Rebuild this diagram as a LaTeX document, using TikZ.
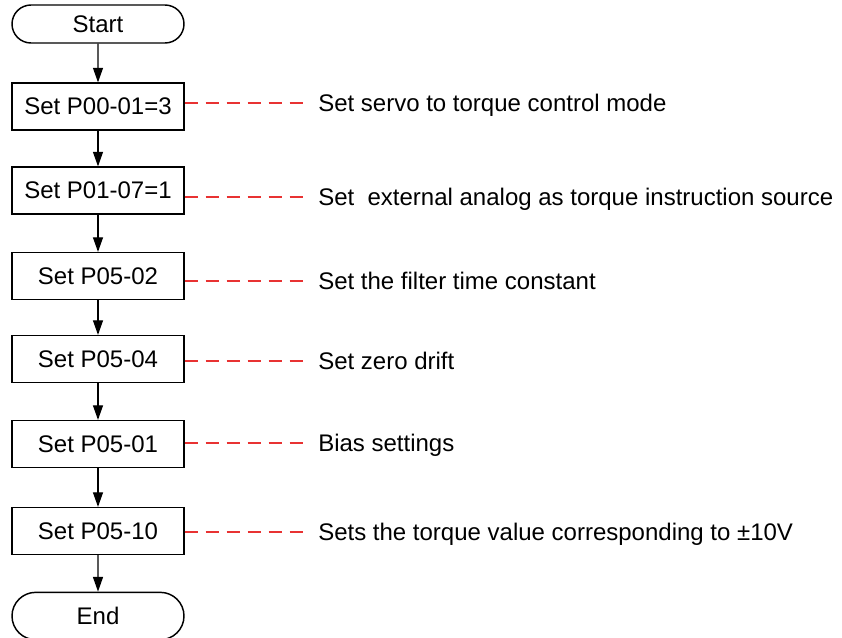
\documentclass[tikz,border=0pt]{standalone}
\usepackage{fontspec}
\setmainfont{Liberation Sans}
\usetikzlibrary{shapes.misc,arrows.meta}
\definecolor{leadred}{RGB}{232,50,50}

\begin{document}
\begin{tikzpicture}[x=0.75pt,y=-0.75pt,>={Triangle[length=11pt,width=7.5pt]},
    box/.style={draw, line width=1.1pt, minimum width=129pt, minimum height=35pt,
        inner sep=0pt, font=\fontsize{18}{21}\selectfont},
    term/.style={box, rounded rectangle, minimum height=28.5pt},
    note/.style={anchor=west, inner xsep=9.75pt, inner ysep=0pt, text height=12.9pt,
        text depth=0pt, font=\fontsize{18}{21}\selectfont},
    lead/.style={leadred, line width=0.9pt, dash pattern=on 9.75pt off 6pt},
    flow/.style={->, line width=1pt}]
    % --- 画布范围 ---
    \useasboundingbox (0,0) rectangle (842,637);

    % --- 1. 流程框 ---
    \node[term] (start) at (98,24) {Start};
    \node[box] (p0001) at (98,106.5) {Set P00-01=3};
    \node[box] (p0107) at (98,190.5) {Set P01-07=1};
    \node[box] (p0502) at (98,276) {Set P05-02};
    \node[box] (p0504) at (98,359) {Set P05-04};
    \node[box] (p0501) at (98,444) {Set P05-01};
    \node[box] (p0510) at (98,531) {Set P05-10};
    \node[term, minimum height=35.5pt] (end) at (98,616) {End};

    % --- 2. 流程箭头 ---
    \draw[flow] (start) -- (p0001);
    \draw[flow] (p0001) -- (p0107);
    \draw[flow] (p0107) -- (p0502);
    \draw[flow] (p0502) -- (p0504);
    \draw[flow] (p0504) -- (p0501);
    \draw[flow] (p0501) -- (p0510);
    \draw[flow] (p0510) -- (end);

    % --- 3. 说明文字 ---
    \node[note] (n1) at (305,103) {Set servo to torque control mode};
    \node[note] (n2) at (305,197) {Set\ \ external analog as torque instruction source};
    \node[note] (n3) at (305,281) {Set the filter time constant};
    \node[note] (n4) at (305,361) {Set zero drift};
    \node[note] (n5) at (305,443) {Bias settings};
    \node[note] (n6) at (305,532) {Sets the torque value corresponding to ±10V};

    % --- 4. 红色虚线引线 ---
    \draw[lead] (p0001.east |- n1.west) -- (n1.west);
    \draw[lead] (p0107.east |- n2.west) -- (n2.west);
    \draw[lead] (p0502.east |- n3.west) -- (n3.west);
    \draw[lead] (p0504.east |- n4.west) -- (n4.west);
    \draw[lead] (p0501.east |- n5.west) -- (n5.west);
    \draw[lead] (p0510.east |- n6.west) -- (n6.west);

\end{tikzpicture}
\end{document}
